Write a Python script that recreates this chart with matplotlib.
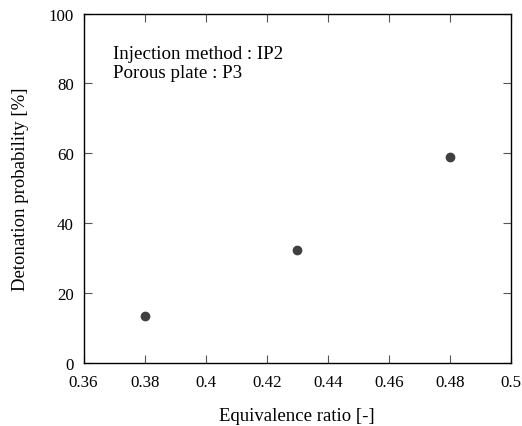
import matplotlib
matplotlib.use("Agg")
import matplotlib.pyplot as plt

# data
equivalence_ratio = [0.38, 0.43, 0.48]
detonation_prob = [13.4, 32.2, 59.0]

plt.rcParams['font.family'] = ['Liberation Serif', 'DejaVu Serif']

fig = plt.figure(figsize=(5.22, 4.27), dpi=100)
ax = fig.add_axes([0.16, 0.1475, 0.819, 0.8185])

ax.plot(equivalence_ratio, detonation_prob, 'o', color='#404040', markersize=6)

ax.set_xlim(0.36, 0.5)
ax.set_ylim(0, 100)
ax.set_xticks([0.36, 0.38, 0.4, 0.42, 0.44, 0.46, 0.48, 0.5])
ax.set_xticklabels(['0.36', '0.38', '0.4', '0.42', '0.44', '0.46', '0.48', '0.5'])
ax.set_yticks([0, 20, 40, 60, 80, 100])

ax.tick_params(direction='in', length=6, width=0.8, top=True, right=True,
               labelsize=12.2, color='#555555')
ax.tick_params(axis='x', pad=8)
ax.tick_params(axis='y', pad=7)
for s in ax.spines.values():
    s.set_linewidth(1.0)

ax.set_xlabel("Equivalence ratio [-]", fontsize=13.5, labelpad=12)
ax.set_ylabel("Detonation probability [%]", fontsize=13.5, labelpad=14)

ax.text(0.069, 0.873, "Injection method : IP2", transform=ax.transAxes, fontsize=13.7)
ax.text(0.069, 0.818, "Porous plate : P3", transform=ax.transAxes, fontsize=13.7)

fig.savefig("out.png", dpi=100)
